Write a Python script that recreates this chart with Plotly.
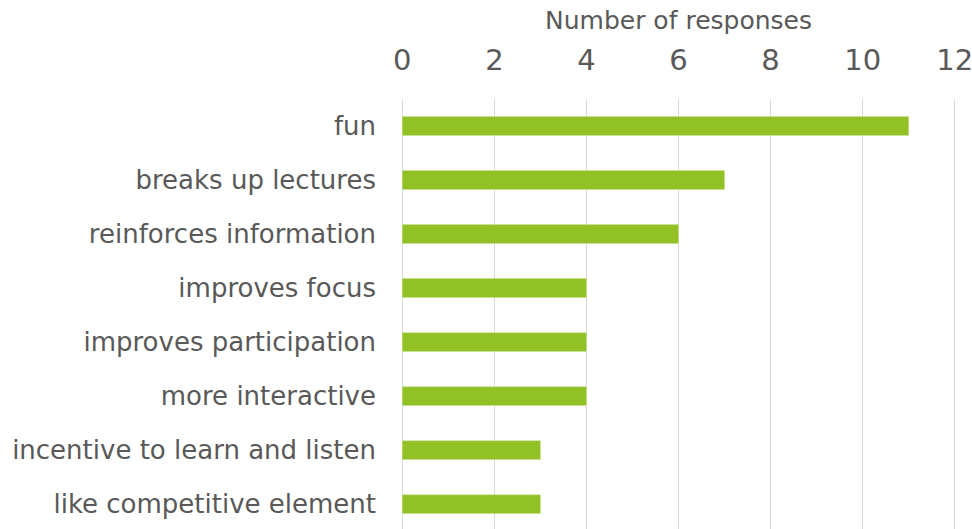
import plotly.graph_objects as go

categories = ["fun", "breaks up lectures", "reinforces information", "improves focus",
              "improves participation", "more interactive",
              "incentive to learn and listen", "like competitive element"]
responses = [11, 7, 6, 4, 4, 4, 3, 3]
tick_vals = [0, 2, 4, 6, 8, 10, 12]

TEXT = "#595959"
FONT = "DejaVu Sans"

fig = go.Figure(go.Bar(
    x=responses, y=categories, orientation="h",
    marker=dict(color="#92C125", line=dict(color="#c8e08a", width=0.5)),
    width=0.35,
))

fig.update_layout(
    width=972, height=529,
    margin=dict(l=400, r=15, t=99, b=0, autoexpand=False),
    paper_bgcolor="white", plot_bgcolor="white",
    font=dict(family=FONT, color=TEXT),
    showlegend=False,
    xaxis=dict(
        side="top", range=[-0.05, 12.05], tickvals=tick_vals,
        showgrid=True, gridcolor="#d9d9d9", gridwidth=1,
        zeroline=False, showline=False, ticks="",
        ticklabelstandoff=22, ticklabeloverflow="allow",
        tickfont=dict(size=29, color=TEXT, family=FONT),
        title=dict(text="Number of responses", font=dict(size=25, color=TEXT, family=FONT), standoff=6),
    ),
    yaxis=dict(
        categoryorder="array", categoryarray=categories,
        range=[7.46, -0.5],
        showgrid=False, zeroline=False, showline=False,
        ticks="", ticklabelstandoff=23,
        tickfont=dict(size=26, color=TEXT, family=FONT),
    ),
)

fig.write_html(
    "out.html",
    config={"displayModeBar": False},
    post_script="document.body.style.margin='0';document.body.style.overflow='hidden';",
)
